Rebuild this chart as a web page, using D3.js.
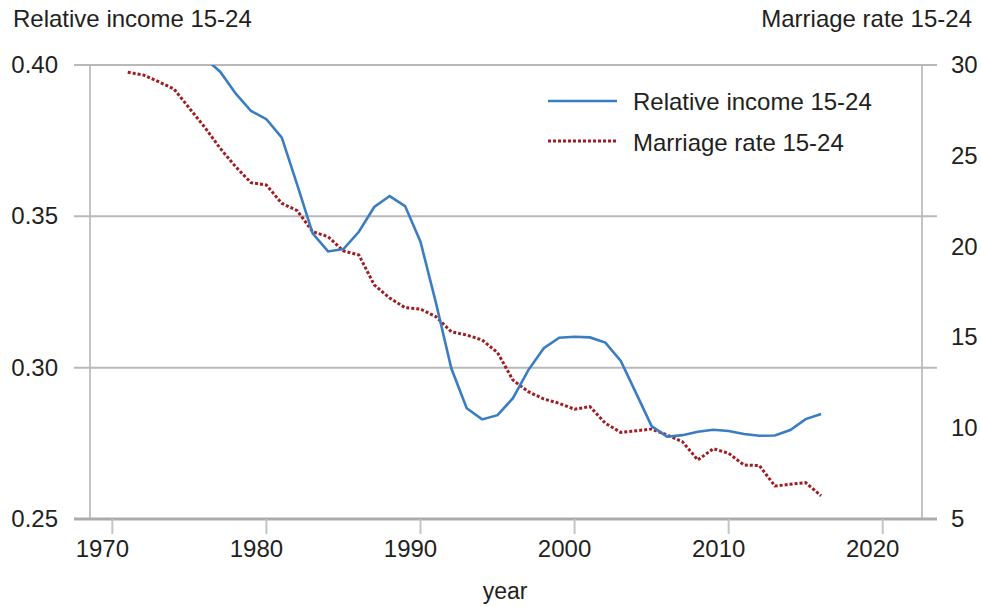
<!DOCTYPE html>
<html>
<head>
<meta charset="utf-8">
<script src="https://cdn.jsdelivr.net/npm/d3@7"></script>
<style>
  body { margin: 0; background: #fff; }
  text { font-family: "Liberation Sans", Arial, sans-serif; fill: #231f20; }
</style>
</head>
<body>
<div id="chart"></div>
<script>
// relative income of 15-24 year olds (left axis)
var incomeYears = [1976, 1977, 1978, 1979, 1980, 1981, 1982, 1983, 1984, 1985, 1986, 1987, 1988, 1989, 1990,
  1991, 1992, 1993, 1994, 1995, 1996, 1997, 1998, 1999, 2000, 2001, 2002, 2003, 2004, 2005,
  2006, 2007, 2008, 2009, 2010, 2011, 2012, 2013, 2014, 2015, 2016]
var incomeValues = [0.4022, 0.3978, 0.3906, 0.3848, 0.3821, 0.3760, 0.3604, 0.3444, 0.3384, 0.3392, 0.3449, 0.3531, 0.3567, 0.3534, 0.3416,
  0.3215, 0.2998, 0.2866, 0.2829, 0.2843, 0.2899, 0.2992, 0.3064, 0.3099, 0.3102, 0.3100, 0.3083, 0.3022, 0.2915, 0.2807,
  0.2772, 0.2777, 0.2788, 0.2795, 0.2791, 0.2781, 0.2775, 0.2776, 0.2794, 0.2830, 0.2847]

// marriage rate 15-24 (right axis)
var marriageYears = d3.range(1971, 2017)
var marriageValues = [29.60, 29.45, 29.08, 28.68, 27.62, 26.57, 25.41, 24.40, 23.52, 23.39,
  22.38, 21.98, 20.82, 20.55, 19.76, 19.54, 17.89, 17.17, 16.64, 16.56,
  16.14, 15.31, 15.13, 14.86, 14.16, 12.65, 12.01, 11.61, 11.37, 11.04,
  11.19, 10.27, 9.77, 9.86, 9.95, 9.63, 9.26, 8.25, 8.87, 8.62,
  7.97, 7.94, 6.82, 6.91, 7.00, 6.28]

var xTicks = [1970, 1980, 1990, 2000, 2010, 2020]
var leftTicks = [0.25, 0.30, 0.35, 0.40]
var rightTicks = [5, 10, 15, 20, 25, 30]

var width = 981, height = 607
var plotL = 90, plotR = 922, plotT = 65, plotB = 519

var svg = d3.select("#chart").append("svg")
  .attr("width", width)
  .attr("height", height)

var x = d3.scaleLinear().domain([1968.55, 2022.55]).range([plotL, plotR])
var yL = d3.scaleLinear().domain([0.25, 0.40]).range([plotB, plotT])
var yR = d3.scaleLinear().domain([5, 30]).range([plotB, plotT])

// side axes
svg.append("line").attr("x1", plotL).attr("x2", plotL).attr("y1", plotT).attr("y2", plotB)
  .style("stroke", "#c4c4c4").style("stroke-width", 2)
svg.append("line").attr("x1", plotR).attr("x2", plotR).attr("y1", plotT).attr("y2", plotB)
  .style("stroke", "#c4c4c4").style("stroke-width", 2)

// horizontal gridlines
svg.selectAll(".grid")
  .data(leftTicks)
  .enter().append("line")
    .attr("class", "grid")
    .attr("x1", 74).attr("x2", 937)
    .attr("y1", d => yL(d)).attr("y2", d => yL(d))
    .style("stroke", d => d == 0.25 ? "#ababab" : "#b9b9b9")
    .style("stroke-width", d => d == 0.25 ? 3 : 2)

// x ticks
svg.selectAll(".xtick")
  .data(xTicks)
  .enter().append("line")
    .attr("class", "xtick")
    .attr("x1", d => x(d)).attr("x2", d => x(d))
    .attr("y1", plotB).attr("y2", plotB + 15)
    .style("stroke", "#c4c4c4").style("stroke-width", 2)
svg.selectAll(".xlabel")
  .data(xTicks)
  .enter().append("text")
    .attr("class", "xlabel")
    .attr("x", d => x(d) - 10)
    .attr("y", 557)
    .attr("text-anchor", "middle")
    .style("font-size", "24px")
    .text(d => d)

// left tick labels
svg.selectAll(".ltick")
  .data(leftTicks)
  .enter().append("text")
    .attr("class", "ltick")
    .attr("x", 58)
    .attr("y", d => yL(d) + 8)
    .attr("text-anchor", "end")
    .style("font-size", "24px")
    .text(d => d3.format(".2f")(d))

// right tick labels
svg.selectAll(".rtick")
  .data(rightTicks)
  .enter().append("text")
    .attr("class", "rtick")
    .attr("x", 951)
    .attr("y", d => yR(d) + 8)
    .style("font-size", "24px")
    .text(d => d)

// axis titles
svg.append("text").attr("x", 13).attr("y", 27).style("font-size", "24px").text("Relative income 15-24")
svg.append("text").attr("x", 972).attr("y", 27).attr("text-anchor", "end").style("font-size", "24px").text("Marriage rate 15-24")
svg.append("text").attr("x", 505).attr("y", 599).attr("text-anchor", "middle").style("font-size", "23px").text("year")

// clip to plot area
svg.append("clipPath").attr("id", "clip")
  .append("rect").attr("x", plotL).attr("y", plotT).attr("width", plotR - plotL).attr("height", plotB - plotT)

var income = incomeYears.map((d, i) => ({year: d, value: incomeValues[i]}))
var marriage = marriageYears.map((d, i) => ({year: d, value: marriageValues[i]}))

svg.append("path")
  .datum(marriage)
  .attr("clip-path", "url(#clip)")
  .attr("fill", "none")
  .attr("stroke", "#a11d21")
  .attr("stroke-width", 3)
  .attr("stroke-dasharray", "3,2")
  .attr("d", d3.line().x(d => x(d.year)).y(d => yR(d.value)))

svg.append("path")
  .datum(income)
  .attr("clip-path", "url(#clip)")
  .attr("fill", "none")
  .attr("stroke", "#3a7dc2")
  .attr("stroke-width", 2.6)
  .attr("d", d3.line().x(d => x(d.year)).y(d => yL(d.value)))

// legend
var legend = svg.append("g")
legend.append("line").attr("x1", 548).attr("x2", 617).attr("y1", 101).attr("y2", 101)
  .style("stroke", "#3a7dc2").style("stroke-width", 2.6)
legend.append("line").attr("x1", 548).attr("x2", 617).attr("y1", 141).attr("y2", 141)
  .style("stroke", "#a11d21").style("stroke-width", 3).style("stroke-dasharray", "3,2")
legend.append("text").attr("x", 633).attr("y", 110).style("font-size", "24px").text("Relative income 15-24")
legend.append("text").attr("x", 633).attr("y", 151).style("font-size", "24px").text("Marriage rate 15-24")
</script>
</body>
</html>
